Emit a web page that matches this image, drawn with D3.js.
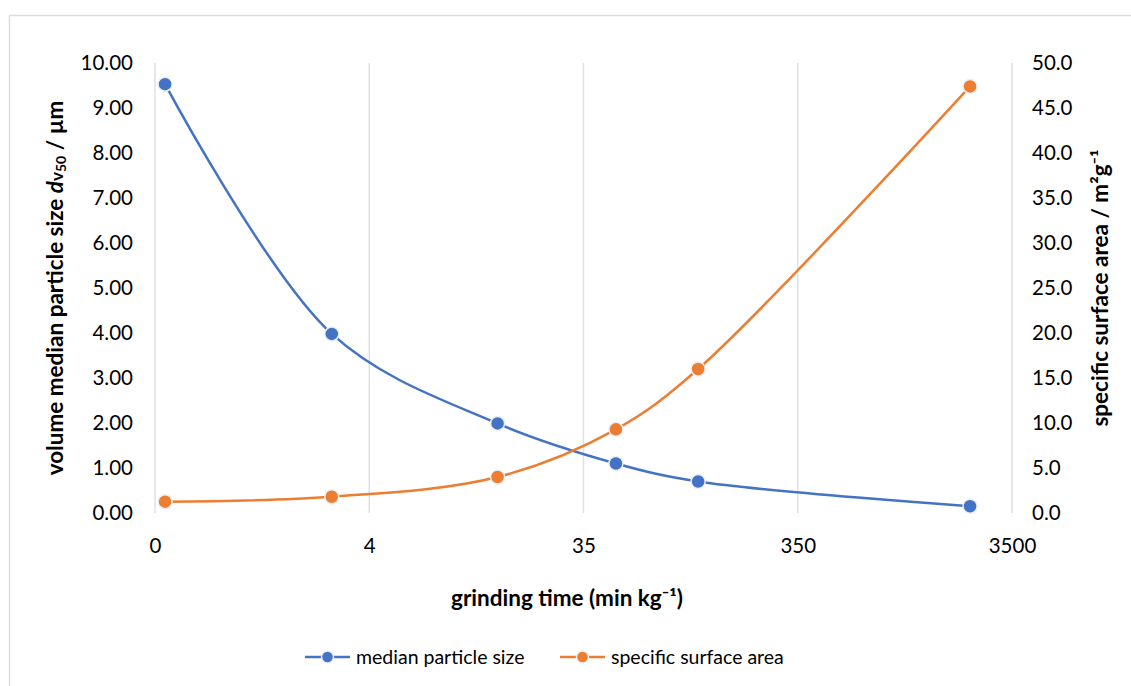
<!DOCTYPE html>
<html>
<head>
<meta charset="utf-8">
<script src="https://cdn.jsdelivr.net/npm/d3@7"></script>
<style>
  html, body { margin: 0; padding: 0; background: #fff; }
  svg { display: block; }
  text { font-family: Lato, "Open Sans", sans-serif; fill: #000; }
</style>
</head>
<body>
<svg id="chart" width="1131" height="686"></svg>
<script>
// Grinding time (min per kg), log scale
const grindingTime = [0.39, 2.34, 13.9, 49.6, 120, 2230];
// Volume median particle size dv50 (µm), left axis
const medianSize = [9.53, 3.98, 1.99, 1.10, 0.70, 0.15];
// Specific surface area (m²/g), right axis
const surfaceArea = [1.26, 1.81, 4.0, 9.3, 16.0, 47.4];

const xTicks = [0.35, 3.5, 35, 350, 3500];
const leftTicks = [0, 1, 2, 3, 4, 5, 6, 7, 8, 9, 10];
const rightTicks = [0, 5, 10, 15, 20, 25, 30, 35, 40, 45, 50];

const seriesNames = ["median particle size", "specific surface area"];
const colors = ["#4472C4", "#ED7D31"];

const svg = d3.select("#chart");
const W = 1131, H = 686;
const plot = { left: 155, right: 1012, top: 63, bottom: 513 };
const tickFont = 20.5, titleFont = 22.5, legendFont = 19.5;

// chart frame
svg.append("rect")
  .attr("x", 9.5).attr("y", 15.5)
  .attr("width", W + 20).attr("height", H + 20)
  .attr("fill", "#fff").attr("stroke", "#d9dde3").attr("stroke-width", 1.5);

const x = d3.scaleLog().domain([0.35, 3500]).range([plot.left, plot.right]);
const yL = d3.scaleLinear().domain([0, 10]).range([plot.bottom, plot.top]);
const yR = d3.scaleLinear().domain([0, 50]).range([plot.bottom, plot.top]);

// vertical gridlines at each decade
svg.append("g").selectAll("line").data(xTicks).join("line")
  .attr("x1", d => x(d)).attr("x2", d => x(d))
  .attr("y1", plot.top).attr("y2", plot.bottom)
  .attr("stroke", "#dde1ea").attr("stroke-width", 1.5);

// x tick labels
const xAxis = d3.axisBottom(x).tickValues(xTicks).tickFormat(d3.format(".0f")).tickSize(0).tickPadding(0);
const gx = svg.append("g").attr("transform", `translate(0,${plot.bottom + 33})`).call(xAxis);
gx.select(".domain").remove();
gx.selectAll("text").attr("font-size", tickFont).attr("dy", "0.35em").style("font-family", "Lato, sans-serif");

// left axis labels
const gl = svg.append("g").attr("transform", `translate(${plot.left - 22},0)`)
  .call(d3.axisLeft(yL).tickValues(leftTicks).tickFormat(d3.format(".2f")).tickSize(0).tickPadding(0));
gl.select(".domain").remove();
gl.selectAll("text").attr("font-size", tickFont).style("font-family", "Lato, sans-serif");

// right axis labels
const gr = svg.append("g").attr("transform", `translate(${plot.right + 20},0)`)
  .call(d3.axisRight(yR).tickValues(rightTicks).tickFormat(d3.format(".1f")).tickSize(0).tickPadding(0));
gr.select(".domain").remove();
gr.selectAll("text").attr("font-size", tickFont).style("font-family", "Lato, sans-serif");

// axis titles
const lt = svg.append("text")
  .attr("transform", `translate(63,${(plot.top + plot.bottom) / 2}) rotate(-90)`)
  .attr("text-anchor", "middle").attr("font-size", titleFont).attr("font-weight", "bold");
lt.append("tspan").text("volume median particle size ");
lt.append("tspan").attr("font-style", "italic").text("d");
lt.append("tspan").attr("font-size", 17).text("v");
lt.append("tspan").attr("font-size", 14).attr("dy", 3).text("50");
lt.append("tspan").attr("dy", -3).text(" / µm");

svg.append("text")
  .attr("transform", `translate(1108,${(plot.top + plot.bottom) / 2}) rotate(-90)`)
  .attr("text-anchor", "middle").attr("font-size", titleFont).attr("font-weight", "bold")
  .text("specific surface area / m²g⁻¹");

svg.append("text")
  .attr("x", 567).attr("y", 606)
  .attr("text-anchor", "middle").attr("font-size", titleFont).attr("font-weight", "bold")
  .text("grinding time (min kg⁻¹)");

// smoothed lines with markers
const series = [
  { values: medianSize, y: yL },
  { values: surfaceArea, y: yR }
];

series.forEach((s, i) => {
  const pts = grindingTime.map((t, j) => [x(t), s.y(s.values[j])]);
  svg.append("path")
    .attr("d", d3.line().curve(d3.curveCatmullRom.alpha(0.5))(pts))
    .attr("fill", "none").attr("stroke", colors[i]).attr("stroke-width", 2.5);
  svg.append("g").selectAll("circle").data(pts).join("circle")
    .attr("cx", d => d[0]).attr("cy", d => d[1]).attr("r", 7)
    .attr("fill", colors[i]).attr("stroke", "#eceef2").attr("stroke-width", 1.5);
});

// legend
const legendItems = [
  { x0: 305, x1: 350, text: 356 },
  { x0: 560, x1: 605, text: 611 }
];
const ly = 657;
legendItems.forEach((it, i) => {
  svg.append("line").attr("x1", it.x0).attr("x2", it.x1).attr("y1", ly).attr("y2", ly)
    .attr("stroke", colors[i]).attr("stroke-width", 2.5);
  svg.append("circle").attr("cx", (it.x0 + it.x1) / 2).attr("cy", ly).attr("r", 6)
    .attr("fill", colors[i]).attr("stroke", "#eceef2").attr("stroke-width", 1.5);
  svg.append("text").attr("x", it.text).attr("y", ly).attr("dy", "0.35em")
    .attr("font-size", legendFont).text(seriesNames[i]);
});
</script>
</body>
</html>
